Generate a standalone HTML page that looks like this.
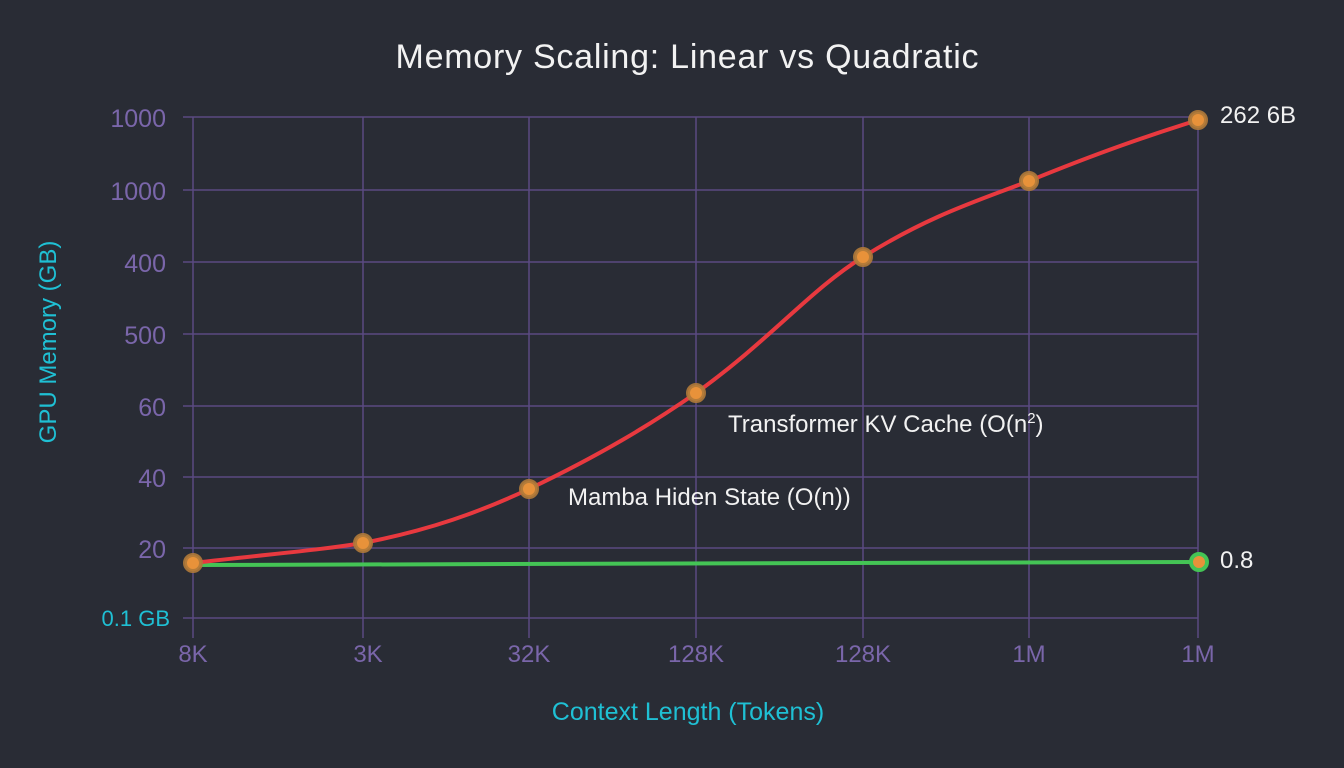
<!DOCTYPE html>
<html><head><meta charset="utf-8"><style>
html,body{margin:0;padding:0;background:#292c35;}
svg{display:block;font-family:"Liberation Sans",sans-serif;}
</style></head><body>
<svg width="1344" height="768" viewBox="0 0 1344 768">
<rect width="1344" height="768" fill="#292c35"/>
<text x="687" y="68" font-size="34" fill="#f2f2f2" text-anchor="middle" textLength="583">Memory Scaling: Linear vs Quadratic</text>
<g stroke="#5b4a82" stroke-width="1.5">
<line x1="183" y1="117" x2="1198" y2="117"/>
<line x1="183" y1="190" x2="1198" y2="190"/>
<line x1="183" y1="262" x2="1198" y2="262"/>
<line x1="183" y1="334" x2="1198" y2="334"/>
<line x1="183" y1="406" x2="1198" y2="406"/>
<line x1="183" y1="477" x2="1198" y2="477"/>
<line x1="183" y1="548" x2="1198" y2="548"/>
<line x1="183" y1="618" x2="1198" y2="618"/>
<line x1="193" y1="117" x2="193" y2="638"/>
<line x1="363" y1="117" x2="363" y2="638"/>
<line x1="529" y1="117" x2="529" y2="638"/>
<line x1="696" y1="117" x2="696" y2="638"/>
<line x1="863" y1="117" x2="863" y2="638"/>
<line x1="1029" y1="117" x2="1029" y2="638"/>
<line x1="1198" y1="117" x2="1198" y2="638"/>
</g>
<g fill="#7a66aa" font-size="25" text-anchor="end">
<text x="166" y="127">1000</text>
<text x="166" y="200">1000</text>
<text x="166" y="272">400</text>
<text x="166" y="344">500</text>
<text x="166" y="416">60</text>
<text x="166" y="487">40</text>
<text x="166" y="558">20</text>
</g>
<text x="170" y="626" font-size="22" fill="#1fc0d4" text-anchor="end">0.1 GB</text>
<g fill="#7a66aa" font-size="24" text-anchor="middle">
<text x="193" y="662">8K</text><text x="368" y="662">3K</text><text x="529" y="662">32K</text>
<text x="696" y="662">128K</text><text x="863" y="662">128K</text><text x="1029" y="662">1M</text><text x="1198" y="662">1M</text>
</g>
<text x="688" y="720" font-size="25" fill="#1fc0d4" text-anchor="middle">Context Length (Tokens)</text>
<text transform="translate(56,342) rotate(-90)" font-size="24" fill="#1fc0d4" text-anchor="middle">GPU Memory (GB)</text>
<path d="M193,565 L1198,562" stroke="#44c455" stroke-width="4" fill="none"/>
<path d="M193,563 C280,553 320,550 363,543 C430,530 480,512 529,489 C600,455 650,425 696,393 C770,340 810,290 863,257 C930,215 980,200 1029,181 C1100,152 1150,135 1198,120" stroke="#e8393f" stroke-width="4" fill="none"/>
<g fill="#e8923a" stroke="#b07a3a" stroke-width="4" stroke-opacity="0.9">
<circle cx="193" cy="563" r="8"/><circle cx="363" cy="543" r="8"/><circle cx="529" cy="489" r="8"/>
<circle cx="696" cy="393" r="8"/><circle cx="863" cy="257" r="8"/><circle cx="1029" cy="181" r="8"/><circle cx="1198" cy="120" r="8"/>
</g>
<circle cx="1199" cy="562" r="8" fill="#e8923a" stroke="#44c455" stroke-width="4"/>
<text x="1220" y="123" font-size="24" fill="#f2f2f2">262 6B</text>
<text x="1220" y="568" font-size="24" fill="#f2f2f2">0.8</text>
<text x="728" y="432" font-size="24" fill="#f2f2f2">Transformer KV Cache (O(n<tspan font-size="15" dy="-9">2</tspan><tspan dy="9">)</tspan></text>
<text x="568" y="505" font-size="24" fill="#f2f2f2">Mamba Hiden State (O(n))</text>
</svg>
</body></html>
